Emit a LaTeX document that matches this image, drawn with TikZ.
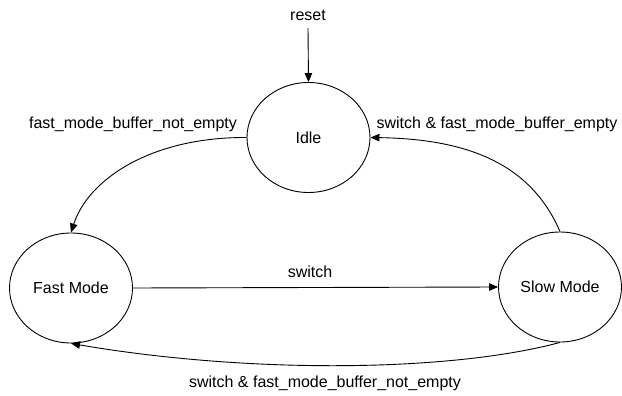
\documentclass[tikz,border=0pt]{standalone}
\usepackage{fontspec}
\setmainfont{Liberation Sans}
\usetikzlibrary{shapes.geometric,arrows.meta}

\begin{document}
\begin{tikzpicture}[x=1pt,y=-1pt,
  state/.style={draw, ellipse, line width=0.9pt, inner sep=0pt,
    minimum width=123pt, minimum height=110pt, font=\fontsize{16}{19}\selectfont},
  lbl/.style={inner sep=0pt, font=\fontsize{16}{19}\selectfont},
  edge/.style={line width=0.9pt, -{Triangle[length=9pt,width=7.5pt]}}]
  \useasboundingbox (0,0) rectangle (622,396);

  % states
  \node[state] (idle) at (308.5,137.5) {Idle};
  \node[state] (fast) at (71,288) {Fast Mode};
  \node[state] (slow) at (560,287) {Slow Mode};

  % reset entry
  \node[lbl] (reset) at (308,15) {reset};
  \coordinate (resetstart) at (308,28);
  \draw[edge] (resetstart) -- (idle.north);

  % transitions
  \draw[edge] (idle.west) .. controls (150,137) and (88,180) .. (fast.north);
  \node[lbl] (l1) at (133,124) {fast\_mode\_buffer\_not\_empty};

  \draw[edge] (slow.north) .. controls (530,162) and (465,139) .. (idle.east);
  \node[lbl] (l2) at (497,124) {switch \& fast\_mode\_buffer\_empty};

  \draw[edge] (fast.east) -- (slow.west);
  \node[lbl] (l3) at (310,272) {switch};

  \draw[edge] (slow.south) .. controls (450,372) and (250,374) .. (fast.south);
  \node[lbl] (l4) at (325,383) {switch \& fast\_mode\_buffer\_not\_empty};
\end{tikzpicture}
\end{document}
